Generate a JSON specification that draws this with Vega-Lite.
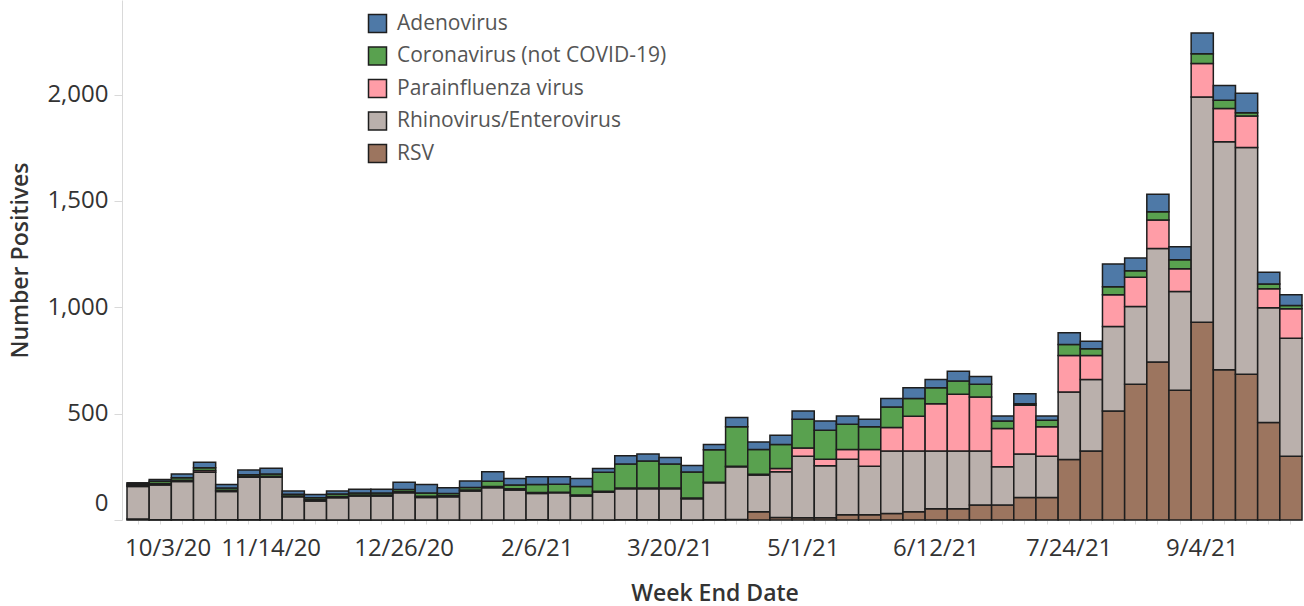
{
  "$schema": "https://vega.github.io/schema/vega-lite/v6.json",
  "width": 1175,
  "height": 520,
  "autosize": "none",
  "padding": {"left": 127, "top": 0, "right": 2, "bottom": 86},
  "background": "white",
  "config": {"view": {"stroke": null}, "font": "Open Sans"},
  "datasets": {
    "weeks": [
      {"week":"10/3/20","virus":"RSV","n":5},{"week":"10/3/20","virus":"Rhinovirus/Enterovirus","n":153},{"week":"10/3/20","virus":"Parainfluenza virus","n":5},{"week":"10/3/20","virus":"Coronavirus (not COVID-19)","n":6},{"week":"10/3/20","virus":"Adenovirus","n":6},
      {"week":"10/10/20","virus":"RSV","n":1},{"week":"10/10/20","virus":"Rhinovirus/Enterovirus","n":163},{"week":"10/10/20","virus":"Parainfluenza virus","n":8},{"week":"10/10/20","virus":"Coronavirus (not COVID-19)","n":10},{"week":"10/10/20","virus":"Adenovirus","n":8},
      {"week":"10/17/20","virus":"RSV","n":1},{"week":"10/17/20","virus":"Rhinovirus/Enterovirus","n":180},{"week":"10/17/20","virus":"Parainfluenza virus","n":6},{"week":"10/17/20","virus":"Coronavirus (not COVID-19)","n":12},{"week":"10/17/20","virus":"Adenovirus","n":17},
      {"week":"10/24/20","virus":"RSV","n":1},{"week":"10/24/20","virus":"Rhinovirus/Enterovirus","n":224},{"week":"10/24/20","virus":"Parainfluenza virus","n":8},{"week":"10/24/20","virus":"Coronavirus (not COVID-19)","n":13},{"week":"10/24/20","virus":"Adenovirus","n":26},
      {"week":"10/31/20","virus":"RSV","n":1},{"week":"10/31/20","virus":"Rhinovirus/Enterovirus","n":133},{"week":"10/31/20","virus":"Parainfluenza virus","n":6},{"week":"10/31/20","virus":"Coronavirus (not COVID-19)","n":10},{"week":"10/31/20","virus":"Adenovirus","n":17},
      {"week":"11/7/20","virus":"RSV","n":1},{"week":"11/7/20","virus":"Rhinovirus/Enterovirus","n":200},{"week":"11/7/20","virus":"Parainfluenza virus","n":4},{"week":"11/7/20","virus":"Coronavirus (not COVID-19)","n":8},{"week":"11/7/20","virus":"Adenovirus","n":22},
      {"week":"11/14/20","virus":"RSV","n":1},{"week":"11/14/20","virus":"Rhinovirus/Enterovirus","n":200},{"week":"11/14/20","virus":"Parainfluenza virus","n":5},{"week":"11/14/20","virus":"Coronavirus (not COVID-19)","n":10},{"week":"11/14/20","virus":"Adenovirus","n":27},
      {"week":"11/21/20","virus":"RSV","n":0},{"week":"11/21/20","virus":"Rhinovirus/Enterovirus","n":109},{"week":"11/21/20","virus":"Parainfluenza virus","n":4},{"week":"11/21/20","virus":"Coronavirus (not COVID-19)","n":8},{"week":"11/21/20","virus":"Adenovirus","n":15},
      {"week":"11/28/20","virus":"RSV","n":0},{"week":"11/28/20","virus":"Rhinovirus/Enterovirus","n":89},{"week":"11/28/20","virus":"Parainfluenza virus","n":6},{"week":"11/28/20","virus":"Coronavirus (not COVID-19)","n":10},{"week":"11/28/20","virus":"Adenovirus","n":15},
      {"week":"12/5/20","virus":"RSV","n":0},{"week":"12/5/20","virus":"Rhinovirus/Enterovirus","n":105},{"week":"12/5/20","virus":"Parainfluenza virus","n":5},{"week":"12/5/20","virus":"Coronavirus (not COVID-19)","n":12},{"week":"12/5/20","virus":"Adenovirus","n":14},
      {"week":"12/12/20","virus":"RSV","n":0},{"week":"12/12/20","virus":"Rhinovirus/Enterovirus","n":113},{"week":"12/12/20","virus":"Parainfluenza virus","n":4},{"week":"12/12/20","virus":"Coronavirus (not COVID-19)","n":10},{"week":"12/12/20","virus":"Adenovirus","n":17},
      {"week":"12/19/20","virus":"RSV","n":0},{"week":"12/19/20","virus":"Rhinovirus/Enterovirus","n":113},{"week":"12/19/20","virus":"Parainfluenza virus","n":4},{"week":"12/19/20","virus":"Coronavirus (not COVID-19)","n":10},{"week":"12/19/20","virus":"Adenovirus","n":17},
      {"week":"12/26/20","virus":"RSV","n":0},{"week":"12/26/20","virus":"Rhinovirus/Enterovirus","n":128},{"week":"12/26/20","virus":"Parainfluenza virus","n":5},{"week":"12/26/20","virus":"Coronavirus (not COVID-19)","n":10},{"week":"12/26/20","virus":"Adenovirus","n":34},
      {"week":"1/2/21","virus":"RSV","n":0},{"week":"1/2/21","virus":"Rhinovirus/Enterovirus","n":106},{"week":"1/2/21","virus":"Parainfluenza virus","n":6},{"week":"1/2/21","virus":"Coronavirus (not COVID-19)","n":15},{"week":"1/2/21","virus":"Adenovirus","n":40},
      {"week":"1/9/21","virus":"RSV","n":0},{"week":"1/9/21","virus":"Rhinovirus/Enterovirus","n":109},{"week":"1/9/21","virus":"Parainfluenza virus","n":5},{"week":"1/9/21","virus":"Coronavirus (not COVID-19)","n":11},{"week":"1/9/21","virus":"Adenovirus","n":27},
      {"week":"1/16/21","virus":"RSV","n":0},{"week":"1/16/21","virus":"Rhinovirus/Enterovirus","n":136},{"week":"1/16/21","virus":"Parainfluenza virus","n":5},{"week":"1/16/21","virus":"Coronavirus (not COVID-19)","n":12},{"week":"1/16/21","virus":"Adenovirus","n":30},
      {"week":"1/23/21","virus":"RSV","n":0},{"week":"1/23/21","virus":"Rhinovirus/Enterovirus","n":152},{"week":"1/23/21","virus":"Parainfluenza virus","n":5},{"week":"1/23/21","virus":"Coronavirus (not COVID-19)","n":25},{"week":"1/23/21","virus":"Adenovirus","n":45},
      {"week":"1/30/21","virus":"RSV","n":0},{"week":"1/30/21","virus":"Rhinovirus/Enterovirus","n":141},{"week":"1/30/21","virus":"Parainfluenza virus","n":6},{"week":"1/30/21","virus":"Coronavirus (not COVID-19)","n":18},{"week":"1/30/21","virus":"Adenovirus","n":30},
      {"week":"2/6/21","virus":"RSV","n":1},{"week":"2/6/21","virus":"Rhinovirus/Enterovirus","n":124},{"week":"2/6/21","virus":"Parainfluenza virus","n":4},{"week":"2/6/21","virus":"Coronavirus (not COVID-19)","n":38},{"week":"2/6/21","virus":"Adenovirus","n":36},
      {"week":"2/13/21","virus":"RSV","n":0},{"week":"2/13/21","virus":"Rhinovirus/Enterovirus","n":128},{"week":"2/13/21","virus":"Parainfluenza virus","n":3},{"week":"2/13/21","virus":"Coronavirus (not COVID-19)","n":37},{"week":"2/13/21","virus":"Adenovirus","n":35},
      {"week":"2/20/21","virus":"RSV","n":0},{"week":"2/20/21","virus":"Rhinovirus/Enterovirus","n":113},{"week":"2/20/21","virus":"Parainfluenza virus","n":5},{"week":"2/20/21","virus":"Coronavirus (not COVID-19)","n":40},{"week":"2/20/21","virus":"Adenovirus","n":37},
      {"week":"2/27/21","virus":"RSV","n":0},{"week":"2/27/21","virus":"Rhinovirus/Enterovirus","n":131},{"week":"2/27/21","virus":"Parainfluenza virus","n":4},{"week":"2/27/21","virus":"Coronavirus (not COVID-19)","n":90},{"week":"2/27/21","virus":"Adenovirus","n":17},
      {"week":"3/6/21","virus":"RSV","n":1},{"week":"3/6/21","virus":"Rhinovirus/Enterovirus","n":146},{"week":"3/6/21","virus":"Parainfluenza virus","n":3},{"week":"3/6/21","virus":"Coronavirus (not COVID-19)","n":113},{"week":"3/6/21","virus":"Adenovirus","n":39},
      {"week":"3/13/21","virus":"RSV","n":1},{"week":"3/13/21","virus":"Rhinovirus/Enterovirus","n":146},{"week":"3/13/21","virus":"Parainfluenza virus","n":3},{"week":"3/13/21","virus":"Coronavirus (not COVID-19)","n":127},{"week":"3/13/21","virus":"Adenovirus","n":33},
      {"week":"3/20/21","virus":"RSV","n":1},{"week":"3/20/21","virus":"Rhinovirus/Enterovirus","n":146},{"week":"3/20/21","virus":"Parainfluenza virus","n":3},{"week":"3/20/21","virus":"Coronavirus (not COVID-19)","n":113},{"week":"3/20/21","virus":"Adenovirus","n":31},
      {"week":"3/27/21","virus":"RSV","n":0},{"week":"3/27/21","virus":"Rhinovirus/Enterovirus","n":100},{"week":"3/27/21","virus":"Parainfluenza virus","n":3},{"week":"3/27/21","virus":"Coronavirus (not COVID-19)","n":123},{"week":"3/27/21","virus":"Adenovirus","n":30},
      {"week":"4/3/21","virus":"RSV","n":1},{"week":"4/3/21","virus":"Rhinovirus/Enterovirus","n":174},{"week":"4/3/21","virus":"Parainfluenza virus","n":3},{"week":"4/3/21","virus":"Coronavirus (not COVID-19)","n":152},{"week":"4/3/21","virus":"Adenovirus","n":25},
      {"week":"4/10/21","virus":"RSV","n":2},{"week":"4/10/21","virus":"Rhinovirus/Enterovirus","n":248},{"week":"4/10/21","virus":"Parainfluenza virus","n":3},{"week":"4/10/21","virus":"Coronavirus (not COVID-19)","n":185},{"week":"4/10/21","virus":"Adenovirus","n":44},
      {"week":"4/17/21","virus":"RSV","n":39},{"week":"4/17/21","virus":"Rhinovirus/Enterovirus","n":172},{"week":"4/17/21","virus":"Parainfluenza virus","n":4},{"week":"4/17/21","virus":"Coronavirus (not COVID-19)","n":116},{"week":"4/17/21","virus":"Adenovirus","n":36},
      {"week":"4/24/21","virus":"RSV","n":12},{"week":"4/24/21","virus":"Rhinovirus/Enterovirus","n":215},{"week":"4/24/21","virus":"Parainfluenza virus","n":15},{"week":"4/24/21","virus":"Coronavirus (not COVID-19)","n":113},{"week":"4/24/21","virus":"Adenovirus","n":44},
      {"week":"5/1/21","virus":"RSV","n":10},{"week":"5/1/21","virus":"Rhinovirus/Enterovirus","n":290},{"week":"5/1/21","virus":"Parainfluenza virus","n":39},{"week":"5/1/21","virus":"Coronavirus (not COVID-19)","n":135},{"week":"5/1/21","virus":"Adenovirus","n":39},
      {"week":"5/8/21","virus":"RSV","n":10},{"week":"5/8/21","virus":"Rhinovirus/Enterovirus","n":245},{"week":"5/8/21","virus":"Parainfluenza virus","n":31},{"week":"5/8/21","virus":"Coronavirus (not COVID-19)","n":136},{"week":"5/8/21","virus":"Adenovirus","n":44},
      {"week":"5/15/21","virus":"RSV","n":25},{"week":"5/15/21","virus":"Rhinovirus/Enterovirus","n":261},{"week":"5/15/21","virus":"Parainfluenza virus","n":45},{"week":"5/15/21","virus":"Coronavirus (not COVID-19)","n":119},{"week":"5/15/21","virus":"Adenovirus","n":39},
      {"week":"5/22/21","virus":"RSV","n":25},{"week":"5/22/21","virus":"Rhinovirus/Enterovirus","n":228},{"week":"5/22/21","virus":"Parainfluenza virus","n":78},{"week":"5/22/21","virus":"Coronavirus (not COVID-19)","n":107},{"week":"5/22/21","virus":"Adenovirus","n":36},
      {"week":"5/29/21","virus":"RSV","n":31},{"week":"5/29/21","virus":"Rhinovirus/Enterovirus","n":293},{"week":"5/29/21","virus":"Parainfluenza virus","n":111},{"week":"5/29/21","virus":"Coronavirus (not COVID-19)","n":96},{"week":"5/29/21","virus":"Adenovirus","n":40},
      {"week":"6/5/21","virus":"RSV","n":39},{"week":"6/5/21","virus":"Rhinovirus/Enterovirus","n":285},{"week":"6/5/21","virus":"Parainfluenza virus","n":164},{"week":"6/5/21","virus":"Coronavirus (not COVID-19)","n":83},{"week":"6/5/21","virus":"Adenovirus","n":51},
      {"week":"6/12/21","virus":"RSV","n":53},{"week":"6/12/21","virus":"Rhinovirus/Enterovirus","n":271},{"week":"6/12/21","virus":"Parainfluenza virus","n":223},{"week":"6/12/21","virus":"Coronavirus (not COVID-19)","n":75},{"week":"6/12/21","virus":"Adenovirus","n":39},
      {"week":"6/19/21","virus":"RSV","n":53},{"week":"6/19/21","virus":"Rhinovirus/Enterovirus","n":271},{"week":"6/19/21","virus":"Parainfluenza virus","n":267},{"week":"6/19/21","virus":"Coronavirus (not COVID-19)","n":62},{"week":"6/19/21","virus":"Adenovirus","n":46},
      {"week":"6/26/21","virus":"RSV","n":70},{"week":"6/26/21","virus":"Rhinovirus/Enterovirus","n":254},{"week":"6/26/21","virus":"Parainfluenza virus","n":254},{"week":"6/26/21","virus":"Coronavirus (not COVID-19)","n":60},{"week":"6/26/21","virus":"Adenovirus","n":37},
      {"week":"7/3/21","virus":"RSV","n":70},{"week":"7/3/21","virus":"Rhinovirus/Enterovirus","n":180},{"week":"7/3/21","virus":"Parainfluenza virus","n":180},{"week":"7/3/21","virus":"Coronavirus (not COVID-19)","n":36},{"week":"7/3/21","virus":"Adenovirus","n":23},
      {"week":"7/10/21","virus":"RSV","n":106},{"week":"7/10/21","virus":"Rhinovirus/Enterovirus","n":204},{"week":"7/10/21","virus":"Parainfluenza virus","n":230},{"week":"7/10/21","virus":"Coronavirus (not COVID-19)","n":7},{"week":"7/10/21","virus":"Adenovirus","n":47},
      {"week":"7/17/21","virus":"RSV","n":106},{"week":"7/17/21","virus":"Rhinovirus/Enterovirus","n":194},{"week":"7/17/21","virus":"Parainfluenza virus","n":138},{"week":"7/17/21","virus":"Coronavirus (not COVID-19)","n":31},{"week":"7/17/21","virus":"Adenovirus","n":20},
      {"week":"7/24/21","virus":"RSV","n":285},{"week":"7/24/21","virus":"Rhinovirus/Enterovirus","n":317},{"week":"7/24/21","virus":"Parainfluenza virus","n":172},{"week":"7/24/21","virus":"Coronavirus (not COVID-19)","n":51},{"week":"7/24/21","virus":"Adenovirus","n":55},
      {"week":"7/31/21","virus":"RSV","n":324},{"week":"7/31/21","virus":"Rhinovirus/Enterovirus","n":337},{"week":"7/31/21","virus":"Parainfluenza virus","n":113},{"week":"7/31/21","virus":"Coronavirus (not COVID-19)","n":31},{"week":"7/31/21","virus":"Adenovirus","n":36},
      {"week":"8/7/21","virus":"RSV","n":513},{"week":"8/7/21","virus":"Rhinovirus/Enterovirus","n":397},{"week":"8/7/21","virus":"Parainfluenza virus","n":149},{"week":"8/7/21","virus":"Coronavirus (not COVID-19)","n":38},{"week":"8/7/21","virus":"Adenovirus","n":107},
      {"week":"8/14/21","virus":"RSV","n":638},{"week":"8/14/21","virus":"Rhinovirus/Enterovirus","n":366},{"week":"8/14/21","virus":"Parainfluenza virus","n":137},{"week":"8/14/21","virus":"Coronavirus (not COVID-19)","n":31},{"week":"8/14/21","virus":"Adenovirus","n":60},
      {"week":"8/21/21","virus":"RSV","n":743},{"week":"8/21/21","virus":"Rhinovirus/Enterovirus","n":534},{"week":"8/21/21","virus":"Parainfluenza virus","n":133},{"week":"8/21/21","virus":"Coronavirus (not COVID-19)","n":39},{"week":"8/21/21","virus":"Adenovirus","n":83},
      {"week":"8/28/21","virus":"RSV","n":610},{"week":"8/28/21","virus":"Rhinovirus/Enterovirus","n":464},{"week":"8/28/21","virus":"Parainfluenza virus","n":107},{"week":"8/28/21","virus":"Coronavirus (not COVID-19)","n":43},{"week":"8/28/21","virus":"Adenovirus","n":61},
      {"week":"9/4/21","virus":"RSV","n":930},{"week":"9/4/21","virus":"Rhinovirus/Enterovirus","n":1059},{"week":"9/4/21","virus":"Parainfluenza virus","n":157},{"week":"9/4/21","virus":"Coronavirus (not COVID-19)","n":46},{"week":"9/4/21","virus":"Adenovirus","n":98},
      {"week":"9/11/21","virus":"RSV","n":707},{"week":"9/11/21","virus":"Rhinovirus/Enterovirus","n":1072},{"week":"9/11/21","virus":"Parainfluenza virus","n":156},{"week":"9/11/21","virus":"Coronavirus (not COVID-19)","n":39},{"week":"9/11/21","virus":"Adenovirus","n":69},
      {"week":"9/18/21","virus":"RSV","n":685},{"week":"9/18/21","virus":"Rhinovirus/Enterovirus","n":1066},{"week":"9/18/21","virus":"Parainfluenza virus","n":148},{"week":"9/18/21","virus":"Coronavirus (not COVID-19)","n":16},{"week":"9/18/21","virus":"Adenovirus","n":91},
      {"week":"9/25/21","virus":"RSV","n":458},{"week":"9/25/21","virus":"Rhinovirus/Enterovirus","n":540},{"week":"9/25/21","virus":"Parainfluenza virus","n":89},{"week":"9/25/21","virus":"Coronavirus (not COVID-19)","n":23},{"week":"9/25/21","virus":"Adenovirus","n":55},
      {"week":"10/2/21","virus":"RSV","n":300},{"week":"10/2/21","virus":"Rhinovirus/Enterovirus","n":555},{"week":"10/2/21","virus":"Parainfluenza virus","n":138},{"week":"10/2/21","virus":"Coronavirus (not COVID-19)","n":15},{"week":"10/2/21","virus":"Adenovirus","n":51}
    ]
  },
  "data": {"name": "weeks"},
  "transform": [
    {"calculate": "indexof(['RSV','Rhinovirus/Enterovirus','Parainfluenza virus','Coronavirus (not COVID-19)','Adenovirus'], datum.virus)", "as": "stackOrder"}
  ],
  "mark": {"type": "bar", "stroke": "#1e1e1e", "strokeWidth": 1.5},
  "encoding": {
    "x": {
      "field": "week", "type": "ordinal", "sort": null,
      "scale": {"paddingInner": 0, "paddingOuter": 0},
      "axis": {
        "title": "Week End Date",
        "labelExpr": "indexof(['10/3/20','11/14/20','12/26/20','2/6/21','3/20/21','5/1/21','6/12/21','7/24/21','9/4/21'], datum.value) >= 0 ? datum.value : ''",
        "labelOverlap": false,
        "labelAngle": 0,
        "labelFontSize": 24,
        "labelColor": "#333333",
        "labelPadding": 12,
        "labelFlush": 15,
        "labelFlushOffset": 13,
        "tickSize": 4,
        "tickColor": "#dddddd",
        "domainColor": "#d9d9d9",
        "titleFontSize": 23,
        "titleFontWeight": 600,
        "titleColor": "#333333",
        "titlePadding": 22
      }
    },
    "y": {
      "field": "n", "type": "quantitative", "stack": "zero",
      "scale": {"domain": [0, 2445], "nice": false},
      "axis": {
        "title": "Number Positives",
        "values": [0, 500, 1000, 1500, 2000],
        "format": ",.0f",
        "grid": false,
        "offset": 5,
        "labelFontSize": 24,
        "labelColor": "#333333",
        "labelPadding": 6,
        "labelFlush": true,
        "labelFlushOffset": -5,
        "tickSize": 8,
        "tickColor": "#d9d9d9",
        "domainColor": "#d9d9d9",
        "titleFontSize": 23,
        "titleFontWeight": 600,
        "titleColor": "#333333",
        "titlePadding": 14
      }
    },
    "color": {
      "field": "virus", "type": "nominal",
      "scale": {
        "domain": ["Adenovirus", "Coronavirus (not COVID-19)", "Parainfluenza virus", "Rhinovirus/Enterovirus", "RSV"],
        "range": ["#4e79a7", "#59a14f", "#ff9da7", "#bab0ac", "#9c755f"]
      },
      "legend": {
        "title": null,
        "orient": "none",
        "legendX": 240,
        "legendY": 13,
        "padding": 0,
        "symbolType": "square",
        "symbolSize": 324,
        "symbolStrokeColor": "#1e1e1e",
        "symbolStrokeWidth": 1.5,
        "symbolOpacity": 1,
        "labelFontSize": 21,
        "labelColor": "#555555",
        "labelOffset": 9,
        "labelLimit": 500,
        "rowPadding": 7.5
      }
    },
    "order": {"field": "stackOrder", "type": "quantitative"}
  }
}
